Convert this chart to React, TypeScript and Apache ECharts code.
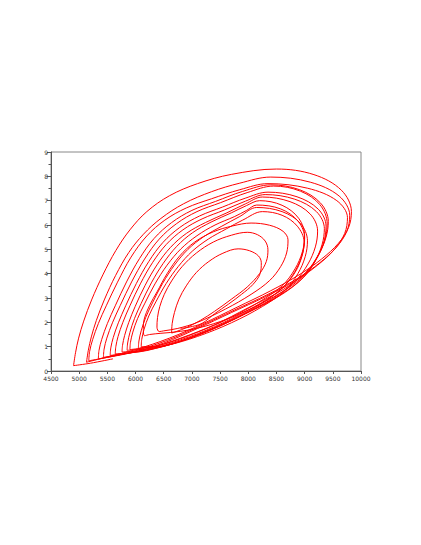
import React, { useEffect, useRef } from "react";
import * as echarts from "echarts";

const xRange = [4500, 10000];
const yRange = [0, 9];

const loop1 = [[5600,0.5],[5200,0.32],[4900,0.22],[4935,0.75],[4990,1.35],[5080,2.05],[5220,2.92],[5420,3.95],[5650,4.95],[5900,5.8],[6200,6.55],[6600,7.2],[7100,7.7],[7700,8.08],[8500,8.3],[9165,8.07],[9652,7.43],[9830,6.55],[9780,5.9],[9600,5.25],[9300,4.6],[8900,3.95],[8400,3.3],[7800,2.62],[7200,1.95],[6600,1.35],[6000,0.88],[5500,0.58]];
const loop2 = [[5130,0.36],[5162,0.85],[5215,1.4],[5305,2.08],[5445,2.92],[5645,3.92],[5880,4.87],[6140,5.62],[6450,6.27],[6850,6.87],[7350,7.37],[7850,7.72],[8400,7.97],[9100,7.76],[9612,7.19],[9800,6.4],[9750,5.75],[9570,5.1],[9270,4.45],[8870,3.8],[8350,3.15],[7750,2.5],[7150,1.85],[6550,1.25],[5950,0.8],[5500,0.56]];
const loop3 = [[5170,0.42],[5185,0.8],[5240,1.3],[5340,1.95],[5480,2.68],[5680,3.65],[5920,4.68],[6200,5.55],[6520,6.2],[6900,6.7],[7350,7.08],[7850,7.45],[8350,7.7],[9055,7.51],[9571,7.0],[9760,6.3],[9710,5.65],[9530,5.0],[9230,4.35],[8830,3.7],[8300,3.05],[7700,2.4],[7100,1.75],[6500,1.15],[5900,0.74]];
const loop4 = [[5340,0.5],[5352,0.85],[5400,1.3],[5500,1.95],[5640,2.68],[5840,3.66],[6070,4.62],[6330,5.45],[6640,6.1],[7000,6.6],[7420,6.97],[7900,7.38],[8400,7.65],[8910,7.45],[9283,6.9],[9420,6.15],[9380,5.5],[9250,4.8],[9020,4.05],[8620,3.35],[8000,2.6],[7400,1.9],[6800,1.35],[6200,0.9],[5800,0.7]];
const loop5 = [[5430,0.56],[5442,0.9],[5490,1.35],[5590,1.98],[5730,2.7],[5930,3.66],[6160,4.6],[6420,5.42],[6730,6.06],[7090,6.55],[7510,6.92],[7980,7.33],[8450,7.6],[8925,7.39],[9273,6.83],[9400,6.05],[9360,5.4],[9230,4.7],[9000,3.95],[8600,3.25],[8000,2.5],[7400,1.82],[6800,1.28],[6200,0.86],[5900,0.74]];
const loop6 = [[5550,0.64],[5561,0.95],[5605,1.38],[5695,1.98],[5825,2.68],[6015,3.6],[6235,4.5],[6485,5.28],[6785,5.9],[7135,6.37],[7545,6.74],[7945,7.1],[8350,7.35],[8865,7.16],[9242,6.65],[9380,5.95],[9340,5.3],[9210,4.6],[8980,3.85],[8580,3.15],[8000,2.42],[7400,1.75],[6800,1.22],[6200,0.84],[5950,0.76]];
const loop7 = [[5640,0.7],[5650,1.0],[5690,1.42],[5775,2.0],[5900,2.68],[6085,3.58],[6300,4.45],[6545,5.2],[6840,5.8],[7180,6.25],[7580,6.62],[7950,6.98],[8300,7.25],[8825,7.06],[9209,6.55],[9350,5.85],[9310,5.2],[9180,4.5],[8950,3.78],[8550,3.08],[7950,2.35],[7350,1.7],[6750,1.18],[6250,0.88],[6050,0.82]];
const loop8 = [[5760,0.78],[5769,1.05],[5805,1.45],[5880,2.0],[5995,2.66],[6170,3.52],[6380,4.36],[6620,5.08],[6905,5.66],[7240,6.1],[7620,6.5],[7950,6.87],[8250,7.15],[8740,6.96],[9099,6.45],[9230,5.75],[9190,5.1],[9060,4.4],[8830,3.68],[8430,2.98],[7850,2.25],[7250,1.62],[6650,1.12],[6200,0.9],[6050,0.88]];
const loop9 = [[5850,0.85],[5860,1.15],[5900,1.58],[5980,2.15],[6100,2.78],[6280,3.62],[6490,4.42],[6730,5.12],[7010,5.68],[7340,6.12],[7700,6.5],[7970,6.8],[8200,7.0],[8600,6.81],[8893,6.28],[9000,5.55],[8960,4.9],[8830,4.2],[8600,3.5],[8200,2.85],[7650,2.15],[7050,1.55],[6500,1.1],[6150,0.95]];
const loop10 = [[5900,0.88],[5910,1.18],[5952,1.6],[6035,2.15],[6160,2.76],[6345,3.58],[6560,4.35],[6805,5.02],[7090,5.56],[7410,6.0],[7760,6.35],[7970,6.6],[8150,6.82],[8575,6.66],[8886,6.15],[9000,5.45],[8960,4.8],[8830,4.1],[8600,3.4],[8200,2.72],[7650,2.05],[7050,1.45],[6500,1.02],[6250,0.97]];
const loop11 = [[6050,0.93],[6060,1.23],[6100,1.65],[6180,2.2],[6300,2.8],[6480,3.6],[6690,4.35],[6930,5.0],[7210,5.52],[7530,5.95],[7850,6.35],[8150,6.72],[8600,6.55],[8923,6.07],[9050,5.35],[9010,4.7],[8880,4.0],[8650,3.3],[8250,2.65],[7700,1.98],[7100,1.42],[6550,1.05],[6300,1.0]];
const loop12 = [[6100,1.0],[6110,1.3],[6152,1.72],[6235,2.26],[6360,2.84],[6545,3.6],[6760,4.3],[7005,4.92],[7290,5.42],[7610,5.84],[7900,6.2],[8250,6.55],[8600,6.4],[8871,5.95],[8990,5.3],[8950,4.7],[8830,4.05],[8600,3.4],[8230,2.8],[7750,2.25],[7250,1.85],[6800,1.63],[6450,1.55],[6250,1.5]];
const loop13 = [[6160,1.45],[6138,1.75],[6150,2.1],[6250,2.7],[6381,3.25],[6560,4.0],[6780,4.72],[7050,5.3],[7380,5.72],[7720,5.96],[8050,6.08],[8378,5.99],[8617,5.74],[8705,5.39],[8680,4.85],[8577,4.3],[8380,3.72],[8050,3.15],[7600,2.55],[7100,2.0],[6750,1.75],[6500,1.65],[6420,1.62]];
const loop14 = [[6380,1.8],[6390,2.2],[6430,2.65],[6510,3.15],[6640,3.7],[6830,4.3],[7080,4.85],[7380,5.3],[7700,5.58],[7982,5.7],[8165,5.6],[8300,5.34],[8349,4.98],[8320,4.5],[8200,4.0],[7980,3.45],[7700,2.95],[7400,2.45],[7150,2.08],[6900,1.78],[6720,1.62],[6640,1.56]];
const loop15 = [[6650,1.95],[6690,2.4],[6770,2.95],[6900,3.5],[7080,4.05],[7300,4.5],[7550,4.84],[7820,5.02],[8025,4.94],[8180,4.73],[8231,4.45],[8210,4.0],[8080,3.55],[7880,3.15],[7650,2.75],[7400,2.35],[7181,1.96],[6950,1.8],[6800,1.75]];

const loops = [loop1, loop2, loop3, loop4, loop5, loop6, loop7, loop8, loop9, loop10, loop11, loop12, loop13, loop14, loop15];

export default function App() {
  const ref = useRef<HTMLDivElement>(null);
  useEffect(() => {
    const chart = echarts.init(ref.current!, null, { renderer: "svg" });
    const data = loops.flat();
    const axisColor = "#555";
    const labelStyle = {
      fontSize: 6,
      color: "#333",
      fontFamily: "DejaVu Sans",
      formatter: (v: number) => String(v),
    };
    chart.setOption({
      animation: false,
      backgroundColor: "#fff",
      grid: { left: 51, top: 152, right: 60, bottom: 174, show: true, borderColor: "#888", borderWidth: 1 },
      xAxis: {
        type: "value",
        min: xRange[0],
        max: xRange[1],
        interval: 500,
        axisLine: { show: true, lineStyle: { color: axisColor, width: 1 } },
        axisTick: { show: true, length: 3, lineStyle: { color: axisColor } },
        axisLabel: { ...labelStyle, margin: 4 },
        splitLine: { show: false },
      },
      yAxis: {
        type: "value",
        min: yRange[0],
        max: yRange[1],
        interval: 1,
        axisLine: { show: true, lineStyle: { color: axisColor, width: 1 } },
        axisTick: { show: true, length: 4, lineStyle: { color: axisColor } },
        minorTick: { show: true, splitNumber: 2, length: 2.5, lineStyle: { color: axisColor } },
        axisLabel: { ...labelStyle, margin: 3 },
        splitLine: { show: false },
      },
      series: [
        {
          type: "line",
          data,
          showSymbol: false,
          smooth: 0.35,
          lineStyle: { color: "#ff0000", width: 1 },
        },
      ],
    });
    return () => chart.dispose();
  }, []);
  return <div ref={ref} style={{ position: "fixed", left: 0, top: 0, width: 421, height: 545 }} />;
}
